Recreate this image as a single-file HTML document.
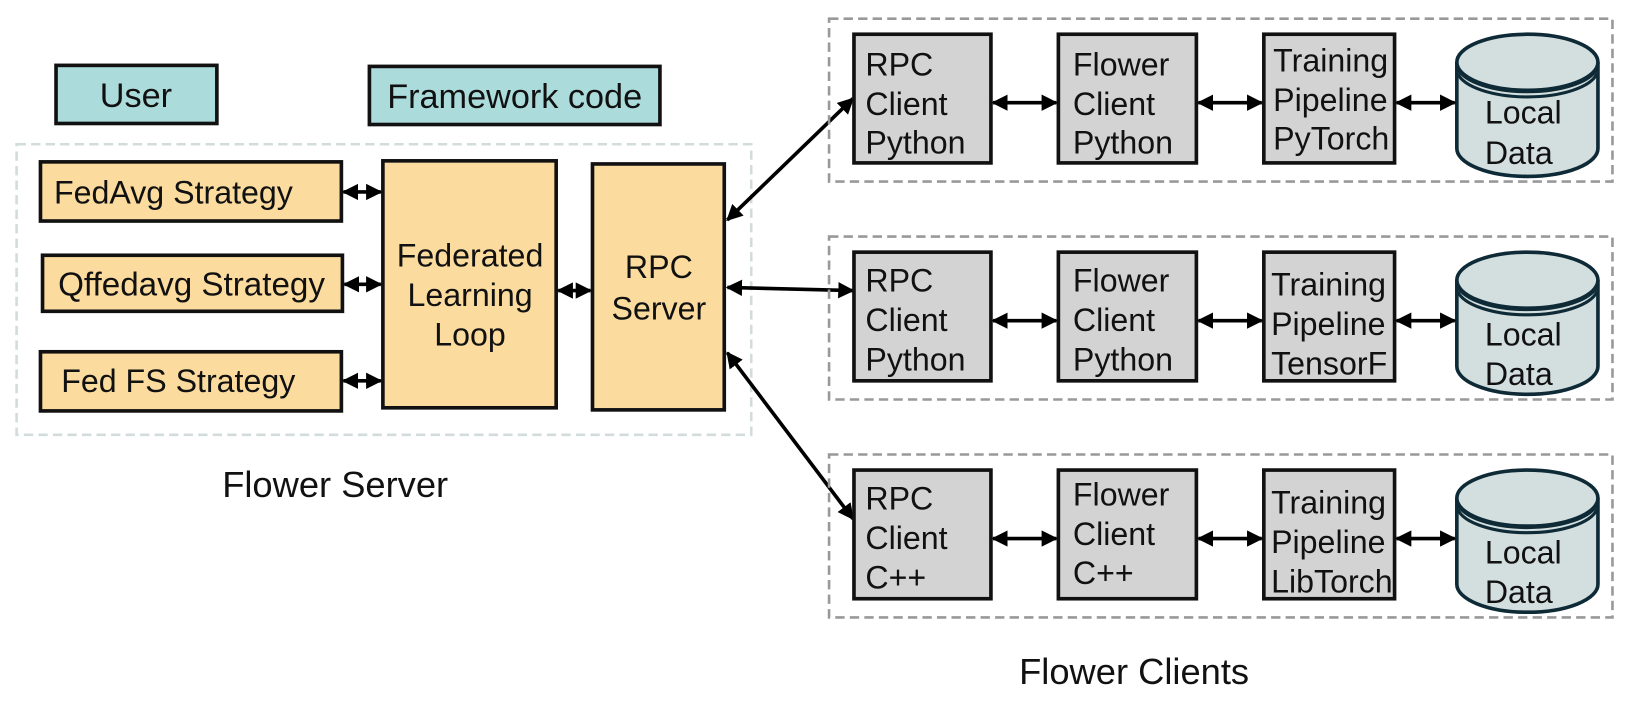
<!DOCTYPE html>
<html><head><meta charset="utf-8"><style>
html,body{margin:0;padding:0;background:#fff}
svg{display:block}
text{font-family:"Liberation Sans",Arial,sans-serif;fill:#111}
</style></head><body>
<svg width="1627" height="708" viewBox="0 0 1568 682.3" preserveAspectRatio="none" xmlns="http://www.w3.org/2000/svg">
<defs>
<marker id="a" viewBox="0 0 10 10" refX="9" refY="5" markerWidth="4.5" markerHeight="4.5" orient="auto-start-reverse"><path d="M0,0 L10,5 L0,10 z" fill="#000"/></marker>
<g id="cyl">
<path d="M0,27 L0,110 A68,27 0 0 0 136,110 L136,27" fill="#d3dede" stroke="#0e2a36" stroke-width="3.5"/>
<ellipse cx="68" cy="27" rx="68" ry="27" fill="#d3dede" stroke="#0e2a36" stroke-width="3.5"/>
<path d="M1,33 A68,27 0 0 0 135,33" fill="none" stroke="#0e2a36" stroke-width="3"/>
<path d="M1,38 A68,27 0 0 0 135,38" fill="none" stroke="#0e2a36" stroke-width="3"/>
</g>
</defs>

<rect x="54" y="63" width="155" height="56" fill="#abdbdb" stroke="#111" stroke-width="3.5"/>
<text x="131" y="103" font-size="33" text-anchor="middle">User</text>
<rect x="356" y="64" width="280" height="56" fill="#abdbdb" stroke="#111" stroke-width="3.5"/>
<text x="496" y="104" font-size="33" text-anchor="middle">Framework code</text>

<rect x="16" y="139" width="708" height="280" fill="none" stroke="#d3dcdc" stroke-width="2.5" stroke-dasharray="9,5"/>
<g stroke="#111" stroke-width="3.5" fill="#fbdb9e">
<rect x="39" y="156" width="290" height="57"/>
<rect x="41" y="246" width="289" height="54"/>
<rect x="39" y="339" width="290" height="57"/>
<rect x="369" y="155" width="167" height="238"/>
<rect x="571" y="158" width="127" height="237"/>
</g>
<g font-size="31">
<text x="52" y="196">FedAvg Strategy</text>
<text x="56" y="285" font-size="32">Qffedavg Strategy</text>
<text x="59" y="378">Fed FS Strategy</text>
</g>
<g font-size="31" text-anchor="middle">
<text x="453" y="257">Federated</text>
<text x="453" y="295">Learning</text>
<text x="453" y="333">Loop</text>
<text x="635" y="268">RPC</text>
<text x="635" y="308">Server</text>
</g>
<g stroke="#000" stroke-width="3.5" marker-start="url(#a)" marker-end="url(#a)">
<line x1="331" y1="185" x2="367" y2="185"/>
<line x1="332" y1="274" x2="367" y2="274"/>
<line x1="331" y1="367" x2="367" y2="367"/>
<line x1="538" y1="280" x2="569" y2="280"/>
<line x1="701" y1="212" x2="822" y2="95"/>
<line x1="701" y1="277" x2="822" y2="280"/>
<line x1="701" y1="340" x2="822" y2="500"/>
</g>
<text x="323" y="479" font-size="35" text-anchor="middle">Flower Server</text>

<g id="c1">
<rect x="799" y="18" width="755" height="157" fill="none" stroke="#999" stroke-width="2.5" stroke-dasharray="9,5"/>
<g stroke="#111" stroke-width="3.5" fill="#d3d3d3">
<rect x="823" y="33" width="132" height="124"/>
<rect x="1020" y="33" width="133" height="124"/>
<rect x="1218" y="33" width="126" height="124"/>
</g>
<use href="#cyl" x="1404" y="33"/>
<g stroke="#000" stroke-width="3.5" marker-start="url(#a)" marker-end="url(#a)">
<line x1="957" y1="99" x2="1018" y2="99"/>
<line x1="1155" y1="99" x2="1216" y2="99"/>
<line x1="1346" y1="99" x2="1402" y2="99"/>
</g>
</g>
<use href="#c1" y="210"/>
<use href="#c1" y="420"/>

<g font-size="31">
<text x="834" y="73">RPC</text><text x="834" y="111">Client</text><text x="834" y="148">Python</text>
<text x="1034" y="73">Flower</text><text x="1034" y="111">Client</text><text x="1034" y="148">Python</text>
<text x="1227" y="69">Training</text><text x="1227" y="107">Pipeline</text><text x="1227" y="144">PyTorch</text>
<text x="1431" y="119">Local</text><text x="1431" y="158">Data</text>

<text x="834" y="281">RPC</text><text x="834" y="319">Client</text><text x="834" y="357">Python</text>
<text x="1034" y="281">Flower</text><text x="1034" y="319">Client</text><text x="1034" y="357">Python</text>
<text x="1225" y="285">Training</text><text x="1225" y="323">Pipeline</text><text x="1225" y="361">TensorF</text>
<text x="1431" y="333">Local</text><text x="1431" y="371">Data</text>

<text x="834" y="491">RPC</text><text x="834" y="529">Client</text><text x="834" y="567">C++</text>
<text x="1034" y="487">Flower</text><text x="1034" y="525">Client</text><text x="1034" y="563">C++</text>
<text x="1225" y="495">Training</text><text x="1225" y="533">Pipeline</text><text x="1225" y="571">LibTorch</text>
<text x="1431" y="543">Local</text><text x="1431" y="581">Data</text>
</g>
<text x="1093" y="659" font-size="35" text-anchor="middle">Flower Clients</text>
</svg>
</body></html>
